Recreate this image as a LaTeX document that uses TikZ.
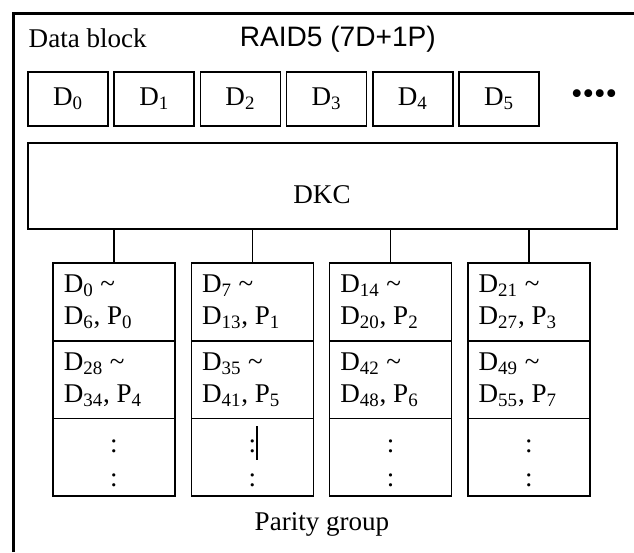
\documentclass[tikz,border=0pt]{standalone}
\usepackage{fontspec}
\setmainfont{Liberation Serif}
\newfontfamily\titlefont{Liberation Sans}
\usetikzlibrary{positioning}

\tikzset{
	txt/.style={font=\fontsize{15.4}{18.2}\selectfont},
	blk/.style={draw, line width=0.85pt, inner sep=0pt, outer sep=0pt, minimum width=1.6cm, minimum height=1.08cm},
	cell/.style={draw, line width=0.85pt, inner sep=0pt, outer sep=0pt, minimum width=2.44cm, minimum height=1.554cm},
}

\begin{document}
\begin{tikzpicture}[x=0.02cm, y=-0.02cm, line width=0.85pt]

\useasboundingbox (0,0) rectangle (634,552);

\draw[line width=1.7pt] (13.5,552)--(13.5,13.5)--(634,13.5);

\node[txt, anchor=base west, inner sep=0pt] (lbl) at (28,47) {Data block};
\node[font=\titlefont\fontsize{16}{18}\selectfont, anchor=base west, inner sep=0pt] (title) at (239,46) {RAID5 (7D+1P)};

\foreach \i in {0,...,5}{
	\node[blk, txt] (d\i) at (68+86.2*\i, 99) {D\textsubscript{\i}};
}
\node[txt, font=\fontsize{18.7}{20}\selectfont] (more) at (594,97) {••••};

\node[draw, inner sep=0pt, outer sep=0pt, minimum width=11.78cm, minimum height=1.72cm] (dkc) at (322.5,186) {};
\node[txt] (dkctxt) at (322,195) {DKC};

\foreach \i in {0,...,3}{
	\pgfmathtruncatemacro{\fa}{7*\i}
	\pgfmathtruncatemacro{\fb}{7*\i+6}
	\pgfmathtruncatemacro{\sa}{28+7*\i}
	\pgfmathtruncatemacro{\sb}{34+7*\i}
	\pgfmathtruncatemacro{\sp}{4+\i}
	\node[cell] (c\i a) at (114+138.3*\i, 302) {};
	\node[cell, below=0pt of c\i a] (c\i b) {};
	\node[cell, below=0pt of c\i b] (c\i c) {};
	\node[txt, anchor=west, align=left, inner sep=0pt] (t\i a) at ([xshift=0.2cm]c\i a.west)
		{D\textsubscript{\fa} \textasciitilde\\D\textsubscript{\fb}, P\textsubscript{\i}};
	\node[txt, anchor=west, align=left, inner sep=0pt] (t\i b) at ([xshift=0.2cm]c\i b.west)
		{D\textsubscript{\sa} \textasciitilde\\D\textsubscript{\sb}, P\textsubscript{\sp}};
	\node[txt, anchor=base, inner sep=0pt] (v\i a) at (c\i c.center |- 0,452) {:};
	\node[txt, anchor=base, inner sep=0pt] (v\i b) at (c\i c.center |- 0,486) {:};
	\draw (dkc.south -| c\i a.north)--(c\i a.north);
}

\draw[line width=0.6pt] (257,426)--(257,460);

\node[txt, anchor=base, inner sep=0pt] (pg) at (322,530) {Parity group};

\end{tikzpicture}
\end{document}
